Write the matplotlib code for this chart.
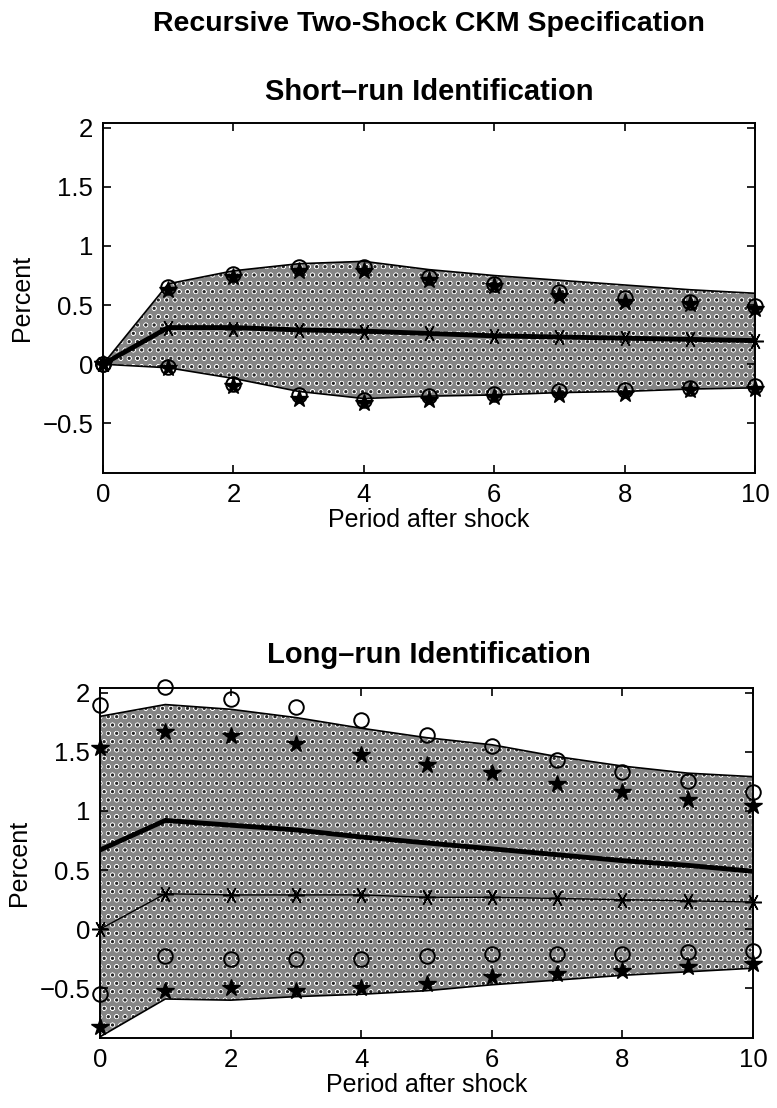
import numpy as np
import matplotlib as mpl
mpl.use('Agg')
import matplotlib.pyplot as plt

plt.rcParams['font.family'] = ['Liberation Sans', 'DejaVu Sans']
plt.rcParams['hatch.linewidth'] = 1.1

periods = np.arange(0, 11)

# ---- short-run identification ----
sr_band_hi = [0.0, 0.68, 0.79, 0.85, 0.87, 0.80, 0.75, 0.71, 0.67, 0.63, 0.60]
sr_band_lo = [0.0, -0.03, -0.12, -0.23, -0.29, -0.27, -0.26, -0.24, -0.23, -0.21, -0.20]
sr_est = [0.0, 0.31, 0.31, 0.29, 0.28, 0.26, 0.24, 0.23, 0.22, 0.21, 0.20]
sr_ast = [0.0, 0.31, 0.30, 0.29, 0.27, 0.26, 0.24, 0.23, 0.22, 0.21, 0.20]
sr_circ_hi = [0.0, 0.65, 0.76, 0.82, 0.82, 0.74, 0.68, 0.61, 0.56, 0.53, 0.49]
sr_circ_lo = [0.0, -0.02, -0.17, -0.26, -0.30, -0.27, -0.25, -0.23, -0.22, -0.20, -0.18]
sr_star_hi = [0.0, 0.63, 0.74, 0.79, 0.79, 0.71, 0.66, 0.58, 0.53, 0.51, 0.47]
sr_star_lo = [0.0, -0.03, -0.18, -0.29, -0.33, -0.30, -0.28, -0.26, -0.25, -0.22, -0.21]

# ---- long-run identification ----
lr_band_hi = [1.80, 1.90, 1.86, 1.79, 1.70, 1.62, 1.56, 1.46, 1.38, 1.32, 1.29]
lr_band_lo = [-0.91, -0.59, -0.60, -0.57, -0.55, -0.52, -0.47, -0.43, -0.39, -0.36, -0.33]
lr_est = [0.67, 0.92, 0.88, 0.84, 0.78, 0.73, 0.68, 0.63, 0.58, 0.54, 0.49]
lr_ast = [0.0, 0.30, 0.29, 0.29, 0.29, 0.27, 0.27, 0.26, 0.25, 0.24, 0.23]
lr_circ_hi = [1.90, 2.05, 1.95, 1.88, 1.77, 1.64, 1.55, 1.43, 1.33, 1.25, 1.16]
lr_circ_lo = [-0.55, -0.23, -0.25, -0.25, -0.25, -0.23, -0.21, -0.21, -0.21, -0.19, -0.18]
lr_star_hi = [1.53, 1.67, 1.63, 1.57, 1.47, 1.39, 1.32, 1.23, 1.16, 1.09, 1.04]
lr_star_lo = [-0.83, -0.52, -0.50, -0.52, -0.50, -0.46, -0.40, -0.38, -0.35, -0.32, -0.29]

yticks = [-0.5, 0, 0.5, 1, 1.5, 2]
ytick_labels = ['\u22120.5', '0', '0.5', '1', '1.5', '2']
xticks = [0, 2, 4, 6, 8, 10]

W, H = 777, 1108
fig = plt.figure(figsize=(W / 100, H / 100), dpi=100)


def make_axes(left, top, right, bottom):
    return fig.add_axes([left / W, 1 - bottom / H, (right - left) / W, (bottom - top) / H])


def draw_panel(ax, hi, lo, est, ast, c_hi, c_lo, s_hi, s_lo):
    ax.fill_between(periods, lo, hi, facecolor='0.52', edgecolor='white',
                    hatch='oo', linewidth=0, zorder=1)
    ax.fill_between(periods, lo, hi, facecolor='none', edgecolor='0.15',
                    hatch='..', linewidth=0, zorder=1)
    ax.plot(periods, hi, color='black', lw=1.2, zorder=2)
    ax.plot(periods, lo, color='black', lw=1.2, zorder=2)
    ax.plot(periods, est, color='black', lw=3.5, zorder=3)
    ax.plot(periods, ast, color='black', lw=1.0, marker=(6, 2, 90),
            markersize=12, markeredgewidth=1.1, zorder=3, clip_on=False)
    for c in (c_hi, c_lo):
        ax.plot(periods, c, linestyle='none', marker='o', markersize=10.5,
                markerfacecolor='none', markeredgecolor='black',
                markeredgewidth=1.4, zorder=4, clip_on=False)
    for s in (s_hi, s_lo):
        ax.plot(periods, s, linestyle='none', marker='*', markersize=13,
                color='black', zorder=5, clip_on=False)
    ax.set_xlim(0, 10)
    ax.set_ylim(-0.92, 2.04)
    ax.set_xticks(xticks)
    ax.set_yticks(yticks)
    ax.set_yticklabels(ytick_labels)
    ax.tick_params(direction='in', top=True, right=True, length=6,
                   width=1.2, labelsize=18.5, pad=7)
    for sp in ax.spines.values():
        sp.set_linewidth(1.4)
    ax.set_xlabel('Period after shock', fontsize=18, labelpad=1)
    ax.set_ylabel('Percent', fontsize=18, labelpad=6)


ax1 = make_axes(103, 123, 755, 473)
draw_panel(ax1, sr_band_hi, sr_band_lo, sr_est, sr_ast,
           sr_circ_hi, sr_circ_lo, sr_star_hi, sr_star_lo)

ax2 = make_axes(100, 688, 753, 1038)
draw_panel(ax2, lr_band_hi, lr_band_lo, lr_est, lr_ast,
           lr_circ_hi, lr_circ_lo, lr_star_hi, lr_star_lo)

cx = (103 + 755) / 2 / W
fig.text(cx, 1 - 24 / H, 'Recursive Two-Shock CKM Specification',
         ha='center', va='center', fontsize=20.5, fontweight='bold')
fig.text(cx, 1 - 92 / H, 'Short\u2013run Identification',
         ha='center', va='center', fontsize=21, fontweight='bold')
fig.text(cx, 1 - 655 / H, 'Long\u2013run Identification',
         ha='center', va='center', fontsize=21, fontweight='bold')

fig.savefig('out.png', dpi=100)
